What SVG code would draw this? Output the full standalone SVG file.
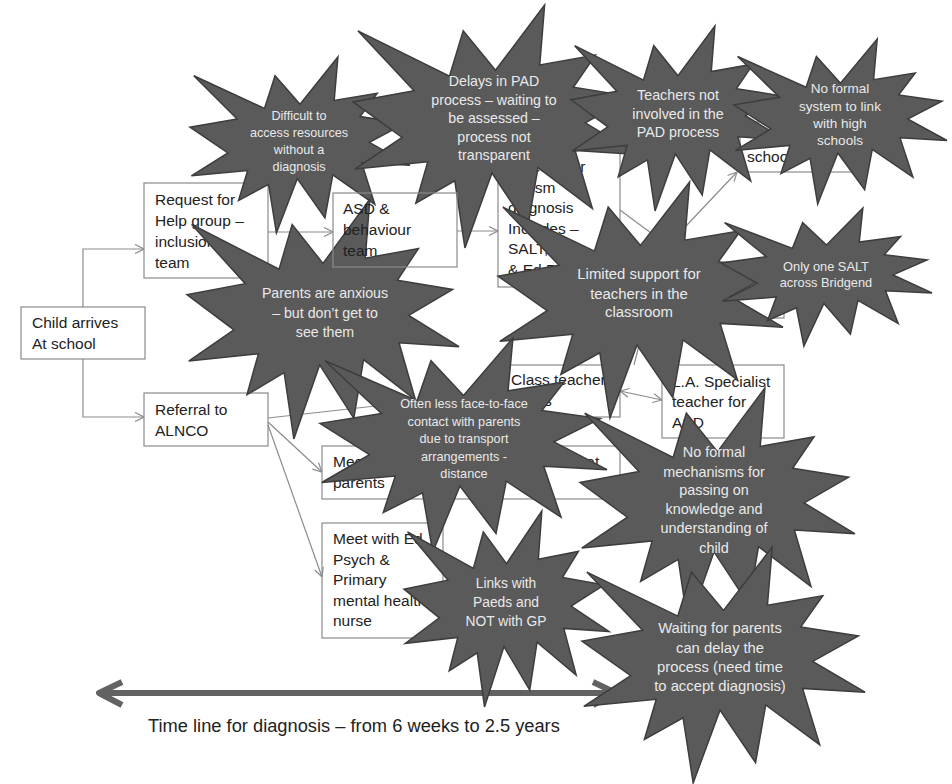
<svg xmlns="http://www.w3.org/2000/svg" xmlns:xlink="http://www.w3.org/1999/xlink" width="952" height="784" viewBox="0 0 952 784">
  <defs>
    <style>
      .box { fill: none; stroke: #8a8a8a; stroke-width: 1.2; }
      .bt { font-family: "Liberation Sans", Arial, sans-serif; font-size: 15.5px; fill: #222; }
      .conn { fill: none; stroke: #8c8c8c; stroke-width: 1.2; }
      .seal { fill: #5a5a5a; stroke: #3d3d3d; stroke-width: 1.5; stroke-linejoin: miter; }
      .st { font-family: "Liberation Sans", Arial, sans-serif; fill: #e9e9e9; text-anchor: middle; }
      .tl { fill: none; stroke: #626262; stroke-width: 6; }
    </style>
    <!-- twelve-point explosion outline in a 100x100 unit box -->
    <path id="seal" class="seal" vector-effect="non-scaling-stroke"
      d="M50 26.85 L67.23 0 L65.53 24.65 L85.09 20.63 L77.32 33.87 L97.67 37.67 L81.51 48.5 L100 61.53 L77.95 59.92 L84 83.77 L64.91 66.93 L61.33 91.38 L48.76 69.14 L39.28 100 L35.72 72.35 L22.05 81.56 L26.24 64.52 L0.63 67.53 L17.23 54.51 L0 39.88 L21.42 35.26 L1.71 10.63 L33.85 29.26 L38.67 10.63 Z"/>
    <marker id="arr" viewBox="0 0 10 10" refX="10" refY="5" markerWidth="10" markerHeight="10" markerUnits="userSpaceOnUse" orient="auto-start-reverse">
      <path d="M1 0.5 L10 5 L1 9.5" fill="none" stroke="#8c8c8c" stroke-width="1.2"/>
    </marker>
  </defs>

  <rect width="952" height="784" fill="#fff"/>

  <!-- process boxes -->
  <g id="child">
    <rect class="box" x="21" y="307" width="124" height="52"/>
    <text class="bt" x="32" y="328">Child arrives</text>
    <text class="bt" x="32" y="349">At school</text>
  </g>
  <g id="request">
    <rect class="box" x="144" y="183" width="124" height="95"/>
    <text class="bt" x="155" y="205">Request for</text>
    <text class="bt" x="155" y="226">Help group –</text>
    <text class="bt" x="155" y="247">inclusion</text>
    <text class="bt" x="155" y="268">team</text>
  </g>
  <g id="panel">
    <rect class="box" x="498" y="150" width="122" height="137"/>
    <text class="bt" x="508" y="172">Referral for</text>
    <text class="bt" x="508" y="193">Autism</text>
    <text class="bt" x="508" y="213">diagnosis</text>
    <text class="bt" x="508" y="234">Includes –</text>
    <text class="bt" x="508" y="254">SALT,</text>
    <text class="bt" x="508" y="275">&amp; Ed Psych</text>
  </g>
  <g id="highschool">
    <rect class="box" x="740" y="122" width="122" height="50"/>
    <text class="bt" x="747" y="162">school</text>
  </g>
  <g id="salt">
    <rect class="box" x="662" y="262" width="122" height="56"/>
  </g>
  <g id="referral">
    <rect class="box" x="144" y="393" width="124" height="53"/>
    <text class="bt" x="155" y="415">Referral to</text>
    <text class="bt" x="155" y="436">ALNCO</text>
  </g>
  <g id="meet-parents">
    <rect class="box" x="322" y="446" width="298" height="53"/>
    <text class="bt" x="333" y="467">Meet with ALNCO and class teacher at</text>
    <text class="bt" x="333" y="488">parents</text>
  </g>
  <g id="meet-psych">
    <rect class="box" x="322" y="523" width="121" height="115"/>
    <text class="bt" x="333" y="544">Meet with Ed</text>
    <text class="bt" x="333" y="564.5">Psych &amp;</text>
    <text class="bt" x="333" y="585">Primary</text>
    <text class="bt" x="333" y="605.5">mental health</text>
    <text class="bt" x="333" y="626">nurse</text>
  </g>
  <g id="class-teachers">
    <rect class="box" x="501" y="365" width="119" height="52"/>
    <text class="bt" x="511" y="385">Class teachers</text>
    <text class="bt" x="511" y="406">&amp; TAs</text>
  </g>
  <g id="specialist">
    <rect class="box" x="662" y="365" width="122" height="73"/>
    <text class="bt" x="672" y="387">L.A. Specialist</text>
    <text class="bt" x="672" y="407">teacher for</text>
    <text class="bt" x="672" y="428">ASD</text>
  </g>

  <!-- connectors -->
  <g id="connectors">
    <polyline class="conn" points="83,307 83,249 144,249" marker-end="url(#arr)"/>
    <polyline class="conn" points="83,359 83,417 144,417" marker-end="url(#arr)"/>
    <line class="conn" x1="268" y1="232" x2="333" y2="232" marker-end="url(#arr)"/>
    <line class="conn" x1="457" y1="231" x2="498" y2="231" marker-end="url(#arr)"/>
    <line class="conn" x1="268" y1="422" x2="322" y2="472" marker-end="url(#arr)"/>
    <line class="conn" x1="268" y1="425" x2="322" y2="577" marker-end="url(#arr)"/>
    <line class="conn" x1="268" y1="418" x2="501" y2="392" marker-end="url(#arr)"/>
    <line class="conn" x1="620" y1="210" x2="690" y2="262" marker-end="url(#arr)"/>
    <line class="conn" x1="670" y1="243" x2="737" y2="172" marker-end="url(#arr)"/>
    <line class="conn" x1="620" y1="391" x2="662" y2="400" marker-start="url(#arr)" marker-end="url(#arr)"/>
    <line class="conn" x1="634" y1="365" x2="643" y2="330"/>
  </g>

  <!-- time line -->
  <g id="timeline">
    <line class="tl" x1="100" y1="693" x2="613" y2="693"/>
    <polyline class="tl" points="122,682 99,693 122,705" stroke-linejoin="round"/>
    <polyline class="tl" points="593,682 616,693 593,705" stroke-linejoin="round"/>
  </g>

  <!-- issue callouts -->
  <g id="star-resources">
    <use xlink:href="#seal" href="#seal" transform="translate(190 57) scale(2.2 1.76)"/>
    <text class="st" font-size="12.6" x="299" y="120">Difficult to</text>
    <text class="st" font-size="12.6" x="299" y="137">access resources</text>
    <text class="st" font-size="12.6" x="299" y="154">without a</text>
    <text class="st" font-size="12.6" x="299" y="171">diagnosis</text>
  </g>
  <g id="star-delays">
    <use xlink:href="#seal" href="#seal" transform="translate(353 5) scale(2.85 2.43)"/>
    <text class="st" font-size="14.2" x="494" y="86">Delays in PAD</text>
    <text class="st" font-size="14.2" x="494" y="104.5">process – waiting to</text>
    <text class="st" font-size="14.2" x="494" y="123">be assessed –</text>
    <text class="st" font-size="14.2" x="494" y="141.5">process not</text>
    <text class="st" font-size="14.2" x="494" y="160">transparent</text>
  </g>
  <g id="star-teachers">
    <use xlink:href="#seal" href="#seal" transform="translate(571 26) scale(2.14 1.85)"/>
    <text class="st" font-size="14.3" x="678" y="100">Teachers not</text>
    <text class="st" font-size="14.3" x="678" y="119">involved in the</text>
    <text class="st" font-size="14.3" x="678" y="137">PAD process</text>
  </g>
  <g id="star-highschools">
    <use xlink:href="#seal" href="#seal" transform="translate(734 39) scale(2.13 1.65)"/>
    <text class="st" font-size="13.5" x="840" y="93">No formal</text>
    <text class="st" font-size="13.5" x="840" y="111">system to link</text>
    <text class="st" font-size="13.5" x="840" y="128">with high</text>
    <text class="st" font-size="13.5" x="840" y="145">schools</text>
  </g>
  <g id="star-parents">
    <use xlink:href="#seal" href="#seal" transform="translate(187 199) scale(2.72 2.4)"/>
    <text class="st" font-size="14.2" x="325" y="298">Parents are anxious</text>
    <text class="st" font-size="14.2" x="325" y="318">– but don’t get to</text>
    <text class="st" font-size="14.2" x="325" y="337">see them</text>
  </g>
  <g id="star-support">
    <use xlink:href="#seal" href="#seal" transform="translate(498 182) scale(2.85 2.36)"/>
    <text class="st" font-size="14.9" x="639" y="279">Limited support for</text>
    <text class="st" font-size="14.9" x="639" y="299">teachers in the</text>
    <text class="st" font-size="14.9" x="639" y="317">classroom</text>
  </g>
  <g id="star-salt">
    <use xlink:href="#seal" href="#seal" transform="translate(721 208) scale(2.11 1.38)"/>
    <text class="st" font-size="12.8" x="826" y="271">Only one SALT</text>
    <text class="st" font-size="12.8" x="826" y="287">across Bridgend</text>
  </g>
  <g id="star-contact">
    <use xlink:href="#seal" href="#seal" transform="translate(320 338) scale(2.87 2.14)"/>
    <text class="st" font-size="12.7" x="464" y="408">Often less face-to-face</text>
    <text class="st" font-size="12.7" x="464" y="426">contact with parents</text>
    <text class="st" font-size="12.7" x="464" y="443">due to transport</text>
    <text class="st" font-size="12.7" x="464" y="461">arrangements -</text>
    <text class="st" font-size="12.7" x="464" y="478">distance</text>
  </g>
  <g id="star-mechanisms">
    <use xlink:href="#seal" href="#seal" transform="translate(580 388) scale(2.75 2.37)"/>
    <text class="st" font-size="14.4" x="714" y="457">No formal</text>
    <text class="st" font-size="14.4" x="714" y="477">mechanisms for</text>
    <text class="st" font-size="14.4" x="714" y="495">passing on</text>
    <text class="st" font-size="14.4" x="714" y="514">knowledge and</text>
    <text class="st" font-size="14.4" x="714" y="533">understanding of</text>
    <text class="st" font-size="14.4" x="714" y="553">child</text>
  </g>
  <g id="star-paeds">
    <use xlink:href="#seal" href="#seal" transform="translate(404 511) scale(2.05 1.96)"/>
    <text class="st" font-size="13.8" x="506" y="588">Links with</text>
    <text class="st" font-size="13.8" x="506" y="607">Paeds and</text>
    <text class="st" font-size="13.8" x="506" y="626">NOT with GP</text>
  </g>
  <g id="star-waiting">
    <use xlink:href="#seal" href="#seal" transform="translate(582 547) scale(2.83 2.36)"/>
    <text class="st" font-size="14.8" x="720" y="633">Waiting for parents</text>
    <text class="st" font-size="14.8" x="720" y="653">can delay the</text>
    <text class="st" font-size="14.8" x="720" y="672">process (need time</text>
    <text class="st" font-size="14.8" x="720" y="691">to accept diagnosis)</text>
  </g>

  <!-- ASD team box sits above the callouts -->
  <g id="asd-team">
    <rect class="box" x="333" y="193" width="124" height="74"/>
    <text class="bt" x="343" y="214">ASD &amp;</text>
    <text class="bt" x="343" y="235">behaviour</text>
    <text class="bt" x="343" y="256">team</text>
  </g>

  <text id="timeline-label" font-family="Liberation Sans, Arial, sans-serif" font-size="18.3" fill="#222" x="148" y="732">Time line for diagnosis – from 6 weeks to 2.5 years</text>
</svg>
